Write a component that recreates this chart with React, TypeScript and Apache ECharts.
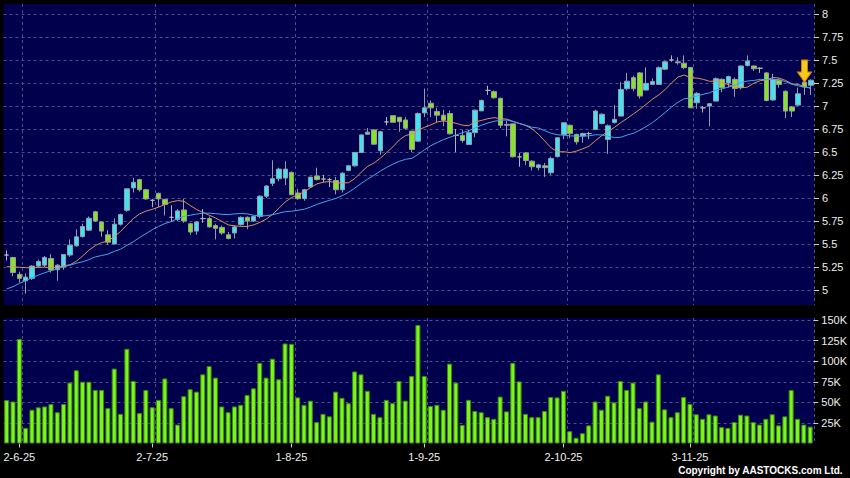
import React, { useEffect, useRef } from "react";
import * as echarts from "echarts";

const dates: string[] = [
  "29-5-25", "30-5-25",
  "2-6-25", "3-6-25", "4-6-25", "5-6-25", "6-6-25", "9-6-25", "10-6-25", "11-6-25", "12-6-25", "13-6-25",
  "16-6-25", "17-6-25", "18-6-25", "19-6-25", "20-6-25", "23-6-25", "24-6-25", "25-6-25", "26-6-25", "27-6-25", "30-6-25",
  "2-7-25", "3-7-25", "4-7-25", "7-7-25", "8-7-25", "9-7-25", "10-7-25", "11-7-25", "14-7-25", "15-7-25", "16-7-25",
  "17-7-25", "18-7-25", "21-7-25", "22-7-25", "23-7-25", "24-7-25", "25-7-25", "28-7-25", "29-7-25", "30-7-25", "31-7-25",
  "1-8-25", "4-8-25", "5-8-25", "6-8-25", "7-8-25", "8-8-25", "11-8-25", "12-8-25", "13-8-25", "14-8-25", "15-8-25",
  "18-8-25", "19-8-25", "20-8-25", "21-8-25", "22-8-25", "25-8-25", "26-8-25", "27-8-25", "28-8-25", "29-8-25",
  "1-9-25", "2-9-25", "3-9-25", "4-9-25", "5-9-25", "8-9-25", "9-9-25", "10-9-25", "11-9-25", "12-9-25", "15-9-25",
  "16-9-25", "17-9-25", "18-9-25", "19-9-25", "22-9-25", "23-9-25", "24-9-25", "25-9-25", "26-9-25", "29-9-25", "30-9-25",
  "2-10-25", "3-10-25", "6-10-25", "8-10-25", "9-10-25", "10-10-25", "13-10-25", "14-10-25", "15-10-25", "16-10-25",
  "17-10-25", "20-10-25", "21-10-25", "22-10-25", "23-10-25", "24-10-25", "27-10-25", "28-10-25", "30-10-25", "31-10-25",
  "3-11-25", "4-11-25", "5-11-25", "6-11-25", "7-11-25", "10-11-25", "11-11-25", "12-11-25", "13-11-25", "14-11-25",
  "17-11-25", "18-11-25", "19-11-25", "20-11-25", "21-11-25", "24-11-25", "25-11-25", "26-11-25", "27-11-25", "28-11-25",
];

// [open, close, low, high]
const ohlc: number[][] = [
  [5.38, 5.38, 5.32, 5.43], [5.354, 5.19, 5.15, 5.36], [5.17, 5.126, 5.08, 5.2], [5.1, 5.14, 4.96, 5.18],
  [5.126, 5.26, 5.11, 5.27], [5.26, 5.31, 5.24, 5.33], [5.27, 5.354, 5.25, 5.37], [5.343, 5.217, 5.19, 5.39],
  [5.22, 5.27, 5.1, 5.28], [5.25, 5.386, 5.22, 5.39], [5.38, 5.487, 5.36, 5.55], [5.48, 5.578, 5.47, 5.66],
  [5.58, 5.69, 5.57, 5.72], [5.65, 5.78, 5.64, 5.8], [5.85, 5.75, 5.74, 5.86], [5.74, 5.64, 5.58, 5.75],
  [5.6, 5.52, 5.49, 5.65], [5.5, 5.715, 5.5, 5.78], [5.715, 5.82, 5.7, 5.83], [5.866, 6.1, 5.85, 6.1],
  [6.11, 6.17, 6.06, 6.22], [6.2, 6.09, 6.07, 6.21], [6.09, 5.99, 5.98, 6.1], [5.975, 5.975, 5.9, 5.99],
  [6.05, 5.99, 5.9, 6.06], [5.985, 5.93, 5.81, 5.99], [5.79, 5.79, 5.74, 5.92], [5.765, 5.86, 5.75, 5.88],
  [5.87, 5.75, 5.73, 5.99], [5.72, 5.63, 5.6, 5.73], [5.64, 5.74, 5.6, 5.75], [5.776, 5.776, 5.73, 5.88],
  [5.776, 5.686, 5.68, 5.8], [5.7, 5.67, 5.55, 5.72], [5.68, 5.62, 5.6, 5.7], [5.6, 5.56, 5.55, 5.63],
  [5.62, 5.686, 5.56, 5.7], [5.71, 5.79, 5.7, 5.8], [5.79, 5.75, 5.66, 5.8], [5.75, 5.8, 5.74, 5.81],
  [5.8, 6.02, 5.78, 6.03], [6.02, 6.13, 6.0, 6.14], [6.16, 6.21, 6.13, 6.41], [6.21, 6.314, 6.18, 6.33],
  [6.217, 6.314, 6.14, 6.4], [6.278, 6.036, 6.03, 6.29], [6.054, 5.993, 5.98, 6.1], [5.993, 6.09, 5.97, 6.1],
  [6.12, 6.227, 6.11, 6.23], [6.24, 6.2, 6.19, 6.33], [6.206, 6.206, 6.17, 6.25], [6.2, 6.2, 6.12, 6.22],
  [6.19, 6.09, 6.04, 6.23], [6.09, 6.27, 6.06, 6.28], [6.3, 6.35, 6.29, 6.36], [6.35, 6.495, 6.34, 6.5],
  [6.495, 6.686, 6.49, 6.69], [6.693, 6.715, 6.69, 6.76], [6.74, 6.585, 6.58, 6.75], [6.513, 6.72, 6.47, 6.73],
  [6.827, 6.827, 6.79, 6.88], [6.895, 6.823, 6.82, 6.9], [6.877, 6.83, 6.72, 6.88], [6.848, 6.758, 6.74, 6.88],
  [6.727, 6.528, 6.5, 6.73], [6.618, 6.918, 6.61, 6.93], [6.925, 6.98, 6.88, 7.19], [7.03, 6.98, 6.88, 7.06],
  [6.94, 6.9, 6.82, 6.98], [6.9, 6.845, 6.78, 6.96], [6.918, 6.698, 6.69, 6.95], [6.68, 6.68, 6.5, 6.75],
  [6.68, 6.625, 6.6, 6.74], [6.582, 6.71, 6.58, 6.74], [6.71, 6.955, 6.66, 6.96], [6.947, 7.06, 6.95, 7.07],
  [7.17, 7.17, 7.12, 7.22], [7.156, 7.09, 7.08, 7.17], [7.084, 6.79, 6.76, 7.09], [6.79, 6.8, 6.67, 6.84],
  [6.806, 6.448, 6.44, 6.81], [6.447, 6.447, 6.34, 6.49], [6.49, 6.407, 6.36, 6.5], [6.4, 6.34, 6.3, 6.41],
  [6.33, 6.36, 6.3, 6.37], [6.35, 6.33, 6.23, 6.38], [6.274, 6.43, 6.25, 6.45], [6.45, 6.655, 6.44, 6.66],
  [6.69, 6.818, 6.64, 6.82], [6.79, 6.7, 6.65, 6.8], [6.69, 6.61, 6.58, 6.7], [6.675, 6.7, 6.6, 6.71],
  [6.7, 6.7, 6.64, 6.72], [6.745, 6.945, 6.74, 6.96], [6.81, 6.91, 6.8, 6.92], [6.636, 6.785, 6.48, 6.8],
  [6.82, 6.855, 6.81, 7.01], [6.89, 7.18, 6.89, 7.26], [7.188, 7.27, 7.17, 7.36], [7.308, 7.188, 7.16, 7.33],
  [7.36, 7.108, 7.08, 7.37], [7.173, 7.246, 7.17, 7.42], [7.235, 7.265, 7.23, 7.3], [7.235, 7.417, 7.23, 7.43],
  [7.4, 7.48, 7.39, 7.49], [7.5, 7.5, 7.48, 7.55], [7.47, 7.48, 7.45, 7.53], [7.465, 7.417, 7.4, 7.55],
  [7.42, 6.98, 6.98, 7.42], [7.035, 7.137, 6.97, 7.15], [6.98, 6.98, 6.93, 7.0], [7.0, 7.025, 6.78, 7.03],
  [7.053, 7.297, 7.05, 7.31], [7.29, 7.2, 7.15, 7.3], [7.25, 7.32, 7.2, 7.33], [7.29, 7.19, 7.1, 7.31],
  [7.2, 7.435, 7.18, 7.44], [7.44, 7.49, 7.43, 7.55], [7.435, 7.405, 7.38, 7.44], [7.41, 7.41, 7.36, 7.42],
  [7.36, 7.06, 7.05, 7.37], [7.065, 7.29, 7.06, 7.35], [7.28, 7.235, 7.2, 7.3], [7.16, 6.945, 6.87, 7.17],
  [6.99, 6.945, 6.88, 7.0], [7.01, 7.133, 7.0, 7.2], [7.26, 7.206, 7.12, 7.27], [7.225, 7.28, 7.12, 7.29],
];

// volume in thousands of shares
const volumeK: number[] = [
  52.7, 51, 127, 19, 41, 44, 45, 48, 38, 48, 74, 89, 75, 75, 65, 65, 43, 91, 36, 115,
  76, 37, 65, 44, 53, 79, 43, 23, 57.5, 66, 63, 84, 94, 80, 45, 38, 45, 47, 59, 67,
  98, 80, 103, 78, 121.5, 121, 56, 47, 52, 26, 36, 33, 63, 55.5, 49, 87.5, 84, 64, 36, 32,
  53, 49, 76, 52, 82, 144, 82,
  45.6, 47, 41, 97, 74, 22.6, 53, 39.5, 38, 32, 30, 57, 39, 98, 75.4, 36, 32, 32, 39.5, 56.5,
  56, 64, 15, 7, 12.5, 22, 51, 41, 58, 50, 76, 65, 74, 43, 51, 26.5, 84, 41.5, 32, 38,
  56.5, 48, 35.5, 30, 35.5, 34, 20, 19, 26, 35, 34, 26, 23, 30, 35.5, 22, 33, 65, 30, 23, 20.5,
];

const ma10Early: number[] = [5.253, 5.253, 5.247, 5.243, 5.24, 5.247, 5.247, 5.243, 5.247];
const ma20Early: number[] = [
  5.011, 5.036, 5.072, 5.1, 5.134, 5.162, 5.188, 5.21, 5.23, 5.253,
  5.27, 5.29, 5.307, 5.33, 5.36, 5.375, 5.39, 5.42, 5.444,
];

const dateTicks: string[] = ["2-6-25", "2-7-25", "1-8-25", "1-9-25", "2-10-25", "3-11-25"];
const priceAxis = { min: 5, max: 8, step: 0.25 };
const volumeTicksK: number[] = [25, 50, 75, 100, 125, 150];
const arrowDate = "27-11-25";
const arrowPrice = 7.38;

function movingAverage(n: number, early: number[]): number[] {
  const closes = ohlc.map((d) => d[1]);
  return closes.map((_, i) => {
    if (i < n - 1) return early[i];
    let s = 0;
    for (let k = i - n + 1; k <= i; k++) s += closes[k];
    return +(s / n).toFixed(4);
  });
}

const NAVY = "#00004c";
const GRID_LINE = { color: "#4e4e88", type: [3, 3] as any, width: 1 };
const LABEL_COLOR = "#eeeeee";
const FONT = "Liberation Sans, Arial, sans-serif";

export default function App() {
  const ref = useRef<HTMLDivElement>(null);
  useEffect(() => {
    document.body.style.margin = "0";
    if (!ref.current) return;
    const chart = echarts.init(ref.current, undefined, { renderer: "svg" });
    const tickSet = new Set(dateTicks);
    const tickIdx = new Set(dates.map((d, i) => (tickSet.has(d) ? i : -1)).filter((i) => i >= 0));
    const labelFn = (i: number) => tickIdx.has(i);
    const splitFn = (i: number) => tickIdx.has(i - 1);
    const ma10 = movingAverage(10, ma10Early);
    const ma20 = movingAverage(20, ma20Early);
    const L = 3.5;
    const W = 810.5;

    const option: any = {
      animation: false,
      backgroundColor: "#000000",
      textStyle: { fontFamily: FONT },
      grid: [
        { left: L, width: W, top: 14, height: 276 },
        { left: L, width: W, top: 320, height: 123.5 },
        { left: L, width: W, top: 4, height: 301, show: true, backgroundColor: NAVY, borderWidth: 0 },
        { left: L, width: W, top: 318, height: 125.5, show: true, backgroundColor: NAVY, borderWidth: 0 },
      ],
      xAxis: [
        { type: "category", gridIndex: 0, data: dates, show: false },
        {
          type: "category",
          gridIndex: 1,
          data: dates,
          axisLine: { show: false },
          axisTick: { show: true, alignWithLabel: true, interval: labelFn, length: 4, lineStyle: { color: "#cccccc" } },
          axisLabel: { interval: labelFn, color: LABEL_COLOR, fontSize: 11, margin: 8, fontFamily: FONT },
          splitLine: { show: false },
        },
        {
          type: "category",
          gridIndex: 2,
          data: dates,
          axisLine: { show: false },
          axisTick: { show: false },
          axisLabel: { show: false },
          splitLine: { show: true, interval: splitFn, lineStyle: GRID_LINE },
        },
        {
          type: "category",
          gridIndex: 3,
          data: dates,
          axisLine: { show: false },
          axisTick: { show: false },
          axisLabel: { show: false },
          splitLine: { show: true, interval: splitFn, lineStyle: GRID_LINE },
        },
      ],
      yAxis: [
        {
          type: "value",
          gridIndex: 0,
          position: "right",
          min: priceAxis.min,
          max: priceAxis.max,
          interval: priceAxis.step,
          axisLine: { show: false },
          axisTick: { show: true, length: 5, lineStyle: { color: "#cccccc" } },
          axisLabel: { color: LABEL_COLOR, fontSize: 11, margin: 8, fontFamily: FONT },
          splitLine: { show: true, lineStyle: GRID_LINE },
        },
        {
          type: "value",
          gridIndex: 1,
          position: "right",
          min: 0,
          max: 150,
          interval: 25,
          axisLine: { show: false },
          axisTick: { show: true, length: 5, lineStyle: { color: "#cccccc" }, customValues: volumeTicksK },
          axisLabel: {
            color: LABEL_COLOR,
            fontSize: 11,
            margin: 8,
            fontFamily: FONT,
            customValues: volumeTicksK,
            formatter: (v: number) => (v === 0 ? "" : v + "K"),
          },
          splitLine: { show: true, lineStyle: GRID_LINE },
        },
        { type: "value", gridIndex: 2, show: false },
        { type: "value", gridIndex: 3, show: false },
      ],
      series: [
        {
          type: "candlestick",
          xAxisIndex: 0,
          yAxisIndex: 0,
          data: ohlc,
          barWidth: 5,
          clip: false,
          z: 3,
          itemStyle: {
            color: "#3fe3f2",
            color0: "#84e622",
            borderColor: "#9a9aa8",
            borderColor0: "#9a9aa8",
            borderColorDoji: "#b4b4b4",
            borderWidth: 1,
          },
          markPoint: {
            silent: true,
            data: [
              {
                coord: [arrowDate, arrowPrice],
                symbol: "path://M4,0 L10,0 L10,12 L14,12 L7,22 L0,12 L4,12 Z",
                symbolSize: [14, 22],
                itemStyle: { color: "#f8c81c", borderColor: "#d88a00", borderWidth: 1 },
                label: { show: false },
              },
            ],
          },
        },
        {
          type: "line",
          name: "MA10",
          xAxisIndex: 0,
          yAxisIndex: 0,
          data: ma10,
          symbol: "none",
          clip: false,
          z: 4,
          lineStyle: { color: "#e0905c", width: 1 },
        },
        {
          type: "line",
          name: "MA20",
          xAxisIndex: 0,
          yAxisIndex: 0,
          data: ma20,
          symbol: "none",
          clip: false,
          z: 4,
          lineStyle: { color: "#44a6ea", width: 1 },
        },
        {
          type: "bar",
          xAxisIndex: 1,
          yAxisIndex: 1,
          data: volumeK,
          barWidth: 5,
          itemStyle: { color: "#7cf51c", borderColor: "#3a8a0c", borderWidth: 1 },
        },
      ],
      graphic: [
        {
          type: "text",
          right: 7,
          top: 465,
          style: {
            text: "Copyright by AASTOCKS.com Ltd.",
            fill: "#ffffff",
            font: "bold 10px Liberation Sans, Arial, sans-serif",
          },
        },
      ],
    };
    chart.setOption(option);
    return () => chart.dispose();
  }, []);
  return (
    <div
      ref={ref}
      style={{ position: "fixed", left: 0, top: 0, width: 850, height: 478, background: "#000" }}
    />
  );
}
